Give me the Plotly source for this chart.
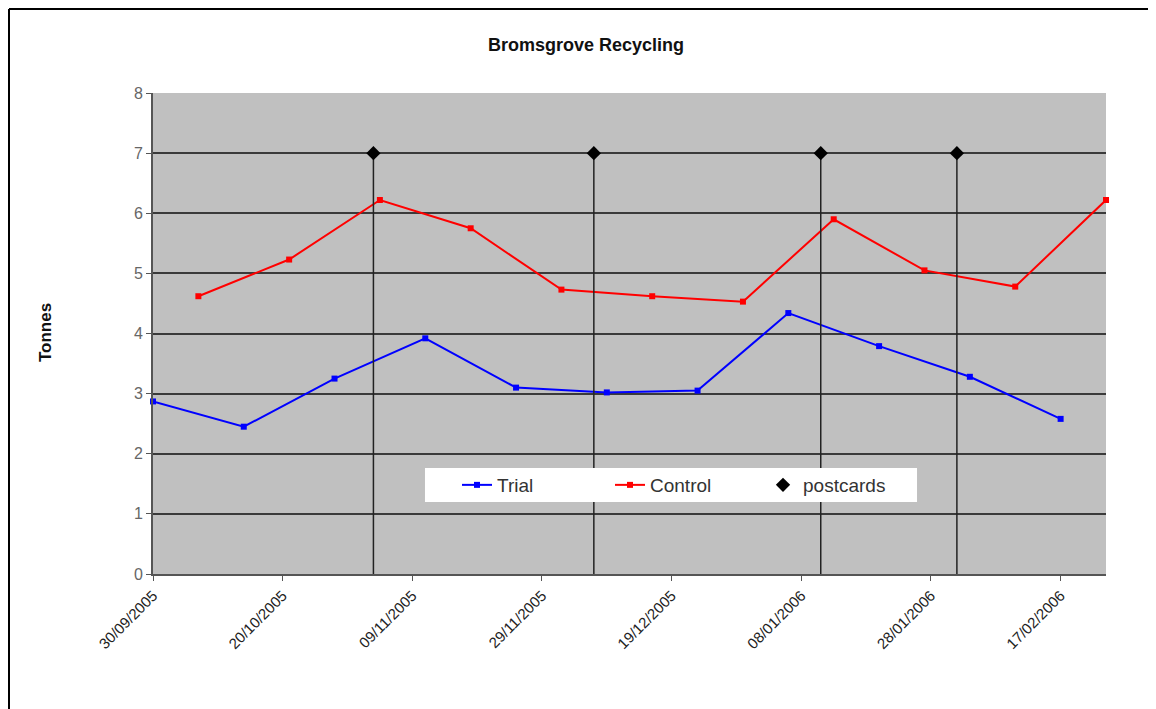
import plotly.graph_objects as go
import pandas as pd

trial_dates = ["2005-09-30", "2005-10-14", "2005-10-28", "2005-11-11", "2005-11-25",
               "2005-12-09", "2005-12-23", "2006-01-06", "2006-01-20", "2006-02-03", "2006-02-17"]
trial_vals = [2.87, 2.45, 3.25, 3.92, 3.10, 3.02, 3.05, 4.34, 3.79, 3.28, 2.58]

control_dates = ["2005-10-07", "2005-10-21", "2005-11-04", "2005-11-18", "2005-12-02",
                 "2005-12-16", "2005-12-30", "2006-01-13", "2006-01-27", "2006-02-10", "2006-02-24"]
control_vals = [4.62, 5.23, 6.22, 5.75, 4.73, 4.62, 4.53, 5.90, 5.05, 4.78, 6.22]

postcard_dates = ["2005-11-03", "2005-12-07", "2006-01-11", "2006-02-01"]
postcard_vals = [7, 7, 7, 7]

tick_dates = pd.date_range("2005-09-30", periods=8, freq="20D")
tick_labels = [d.strftime("%d/%m/%Y") for d in tick_dates]

fig = go.Figure()
fig.add_trace(go.Scatter(x=trial_dates, y=trial_vals, name="Trial", mode="lines+markers",
                         line=dict(color="#0000FF", width=2), cliponaxis=False,
                         marker=dict(color="#0000FF", size=6, symbol="square")))
fig.add_trace(go.Scatter(x=control_dates, y=control_vals, name="Control", mode="lines+markers",
                         line=dict(color="#FF0000", width=2), cliponaxis=False,
                         marker=dict(color="#FF0000", size=6, symbol="square")))
fig.add_trace(go.Scatter(x=postcard_dates, y=postcard_vals, name="postcards", mode="markers",
                         marker=dict(color="black", size=11, symbol="diamond"),
                         error_y=dict(type="data", symmetric=False, array=[0]*len(postcard_vals),
                                      arrayminus=postcard_vals, color="#222222", thickness=1.5, width=0)))

fig.update_layout(
    width=1156, height=709,
    margin=dict(l=145, r=58, t=85, b=143),
    paper_bgcolor="white", plot_bgcolor="#C0C0C0",
    font=dict(family="Liberation Sans, Arial", size=15, color="#222222"),
    title=dict(text="<b>Bromsgrove Recycling</b>", x=0.5, xanchor="center", y=0.948, yanchor="middle",
               font=dict(size=18, color="#111111")),
    showlegend=True,
    legend=dict(orientation="h", x=0.319, y=0.185, xanchor="left", yanchor="middle",
                bgcolor="rgba(0,0,0,0)", font=dict(size=19, color="#333333"),
                entrywidth=108, entrywidthmode="pixels"),
    xaxis=dict(type="date", range=["2005-09-30", "2006-02-24"], tickvals=list(tick_dates),
               ticktext=tick_labels, tickangle=-45, showgrid=False, ticks="outside", ticklen=5,
               tickcolor="#555555", showline=True, linecolor="#555555", linewidth=2,
               tickfont=dict(size=15, color="#222222"), zeroline=False),
    yaxis=dict(range=[0, 8], dtick=1, showgrid=True, gridcolor="#3a3a3a", gridwidth=2,
               ticks="outside", ticklen=5, tickcolor="#555555", showline=True, linecolor="#555555",
               linewidth=2, tickfont=dict(size=16, color="#666666"), zeroline=False),
    annotations=[dict(text="<b>Tonnes</b>", xref="paper", yref="paper", x=-0.1133, y=0.501,
                      textangle=-90, showarrow=False, xanchor="center", yanchor="middle",
                      font=dict(size=17, color="#111111"))],
    shapes=[
        dict(type="line", xref="paper", yref="paper", x0=-0.1511, y0=-0.5, x1=-0.1511, y1=1.1746,
             line=dict(color="black", width=2), layer="below"),
        dict(type="line", xref="paper", yref="paper", x0=-0.1511, y0=1.1746, x1=1.5, y1=1.1746,
             line=dict(color="black", width=2), layer="below"),
        dict(type="rect", xref="paper", yref="paper", x0=0.2854, y0=0.1497, x1=0.8017, y1=0.2204,
             fillcolor="white", line=dict(width=0), layer="above"),
    ],
)

fig.write_html("out.html")
